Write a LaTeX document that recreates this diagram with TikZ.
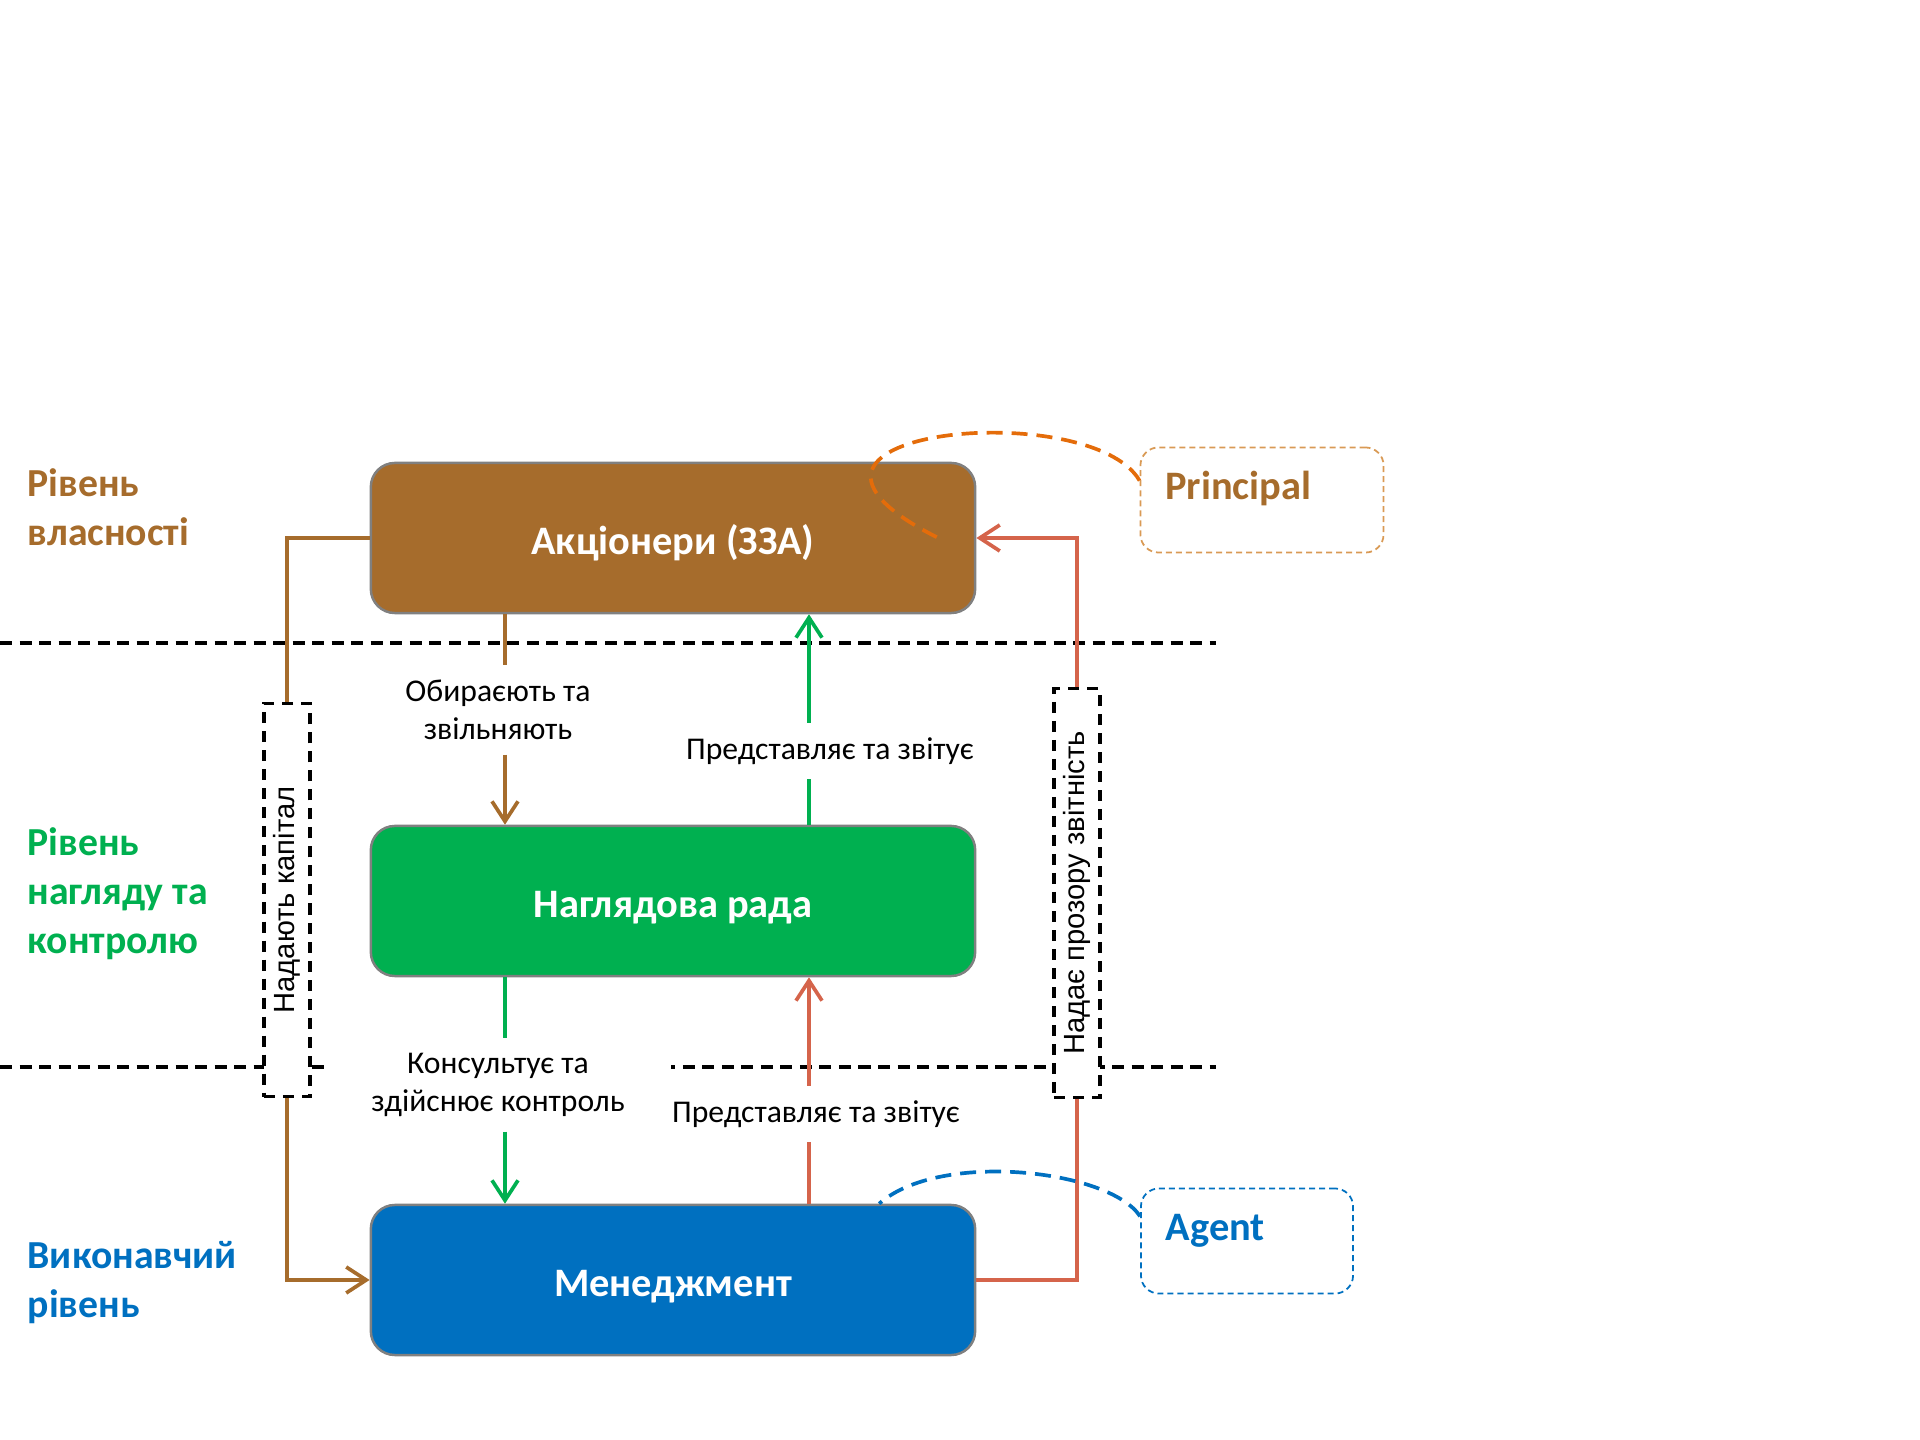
\documentclass[tikz,border=0pt]{standalone}
\usepackage{fontspec}
\setmainfont{Carlito}
\newfontfamily\sidefont{Liberation Sans}
\usepackage{tikz}
\usetikzlibrary{arrows.meta}
\usetikzlibrary{positioning}

\definecolor{ownbrown}{HTML}{A66C2C}
\definecolor{supgreen}{HTML}{00B050}
\definecolor{exeblue}{HTML}{0070C0}
\definecolor{repred}{HTML}{D5644B}
\definecolor{looporange}{HTML}{E46C0A}
\definecolor{prinedge}{HTML}{D99A55}

\tikzset{
  tiername/.style={anchor=west, inner sep=0pt, align=left, font=\fontsize{11.3}{13.9}\selectfont\bfseries},
  actor/.style={draw=gray, line width=0.7pt, rounded corners=2.4mm, minimum width=6.04cm, minimum height=1.5cm, text height=3.8mm, text depth=0.6mm, text=white, font=\fontsize{11.5}{13.9}\selectfont\bfseries},
  sepline/.style={line width=1pt, dash pattern=on 1.2mm off 0.75mm},
  sidebox/.style={draw, fill=white, line width=0.9pt, dash pattern=on 1.1mm off 0.8mm, minimum width=4.6mm, inner sep=0pt, font=\sidefont\fontsize{8.3}{10}\selectfont},
  flowlabel/.style={fill=white, inner xsep=2pt, inner ysep=4pt, align=center, font=\fontsize{9}{10.8}\selectfont},
  ownflow/.style={line width=1.05pt, ownbrown},
  supflow/.style={line width=1.05pt, supgreen},
  repflow/.style={line width=1.05pt, repred},
  rolebox/.style={rounded corners=1.8mm, line width=0.5pt, dash pattern=on 0.6mm off 0.4mm, align=left, inner xsep=2.5mm, minimum height=1.05cm, text height=2mm, text depth=2mm, font=\fontsize{11.5}{13.9}\selectfont\bfseries},
  rolecurve/.style={line width=1.05pt, dash pattern=on 1.6mm off 0.9mm},
}

\begin{document}
\begin{tikzpicture}[x=0.01cm, y=-0.01cm, >={Straight Barb[length=2mm,width=2.6mm]}]
	\useasboundingbox (0,0) rectangle (1920,1440);
	
	\draw[sepline] (0,643) -- (1216,643);
	\draw[sepline] (0,1067) -- (1216,1067);
	
	\node[tiername, ownbrown] (ownlvl) at (27,507) {Рівень\\власності};
	\node[tiername, supgreen] (suplvl) at (27,894) {Рівень\\нагляду та\\контролю};
	\node[tiername, exeblue] (exelvl) at (27,1283) {Виконавчий\\рівень};
	
	\node[actor, fill=ownbrown] (sh) at (673,538) {Акціонери (ЗЗА)};
	\node[actor, fill=supgreen] (sb) at (673,901) {Наглядова рада};
	\node[actor, fill=exeblue] (mg) at (673,1280) {Менеджмент};
	
	\node[sidebox, minimum height=3.93cm] (capbox) at (287,900) {\rotatebox{90}{Надають капітал}};
	\node[sidebox, minimum height=4.08cm] (trbox) at (1077,893) {\rotatebox{90}{Надає прозору звітність}};
	
	\node[flowlabel] (sel) at (498,710) {Обираєють та\\звільняють};
	\node[flowlabel] (rep1) at (830,751) {Представляє та звітує};
	\node[flowlabel, minimum width=3.46cm] (adv) at (498,1085) {Консультує та\\здійснює контроль};
	\node[flowlabel] (rep2) at (816,1114) {Представляє та звітує};
	
	\node[rolebox, draw=prinedge, text=ownbrown, text width=1.93cm] (pr) at (1262,500) {Principal};
	\node[rolebox, draw=exeblue, text=exeblue, text width=1.62cm] (ag) at (1247,1241) {Agent};
	
	\coordinate (downx) at (505,0);
	\coordinate (upx) at (809,0);
	\coordinate (ownin) at ([xshift=-3.8mm]sh.east);
	\coordinate (agin) at ([xshift=20.6mm]mg.north);
	
	\draw[ownflow] (sh.south -| downx) -- (sel.north -| downx);
	\draw[ownflow,->] (sel.south -| downx) -- (sb.north -| downx);
	\draw[supflow] (sb.north -| upx) -- (rep1.south -| upx);
	\draw[supflow,->] (rep1.north -| upx) -- (sh.south -| upx);
	\draw[supflow] (sb.south -| downx) -- (adv.north -| downx);
	\draw[supflow,->] (adv.south -| downx) -- (mg.north -| downx);
	\draw[repflow] (mg.north -| upx) -- (rep2.south -| upx);
	\draw[repflow,->] (rep2.north -| upx) -- (sb.south -| upx);
	
	\draw[ownflow] (sh.west) -| (capbox.north);
	\draw[ownflow,->] (capbox.south) |- (mg.west);
	\draw[repflow] (mg.east) -| (trbox.south);
	\draw[repflow,->] (trbox.north) |- (sh.east);
	
	\draw[rolecurve, looporange] (pr.171) .. controls (1090,395) and (722,430) .. (ownin);
	\draw[rolecurve, exeblue] (ag.167) .. controls (1110,1170) and (940,1150) .. (agin);
\end{tikzpicture}
\end{document}
